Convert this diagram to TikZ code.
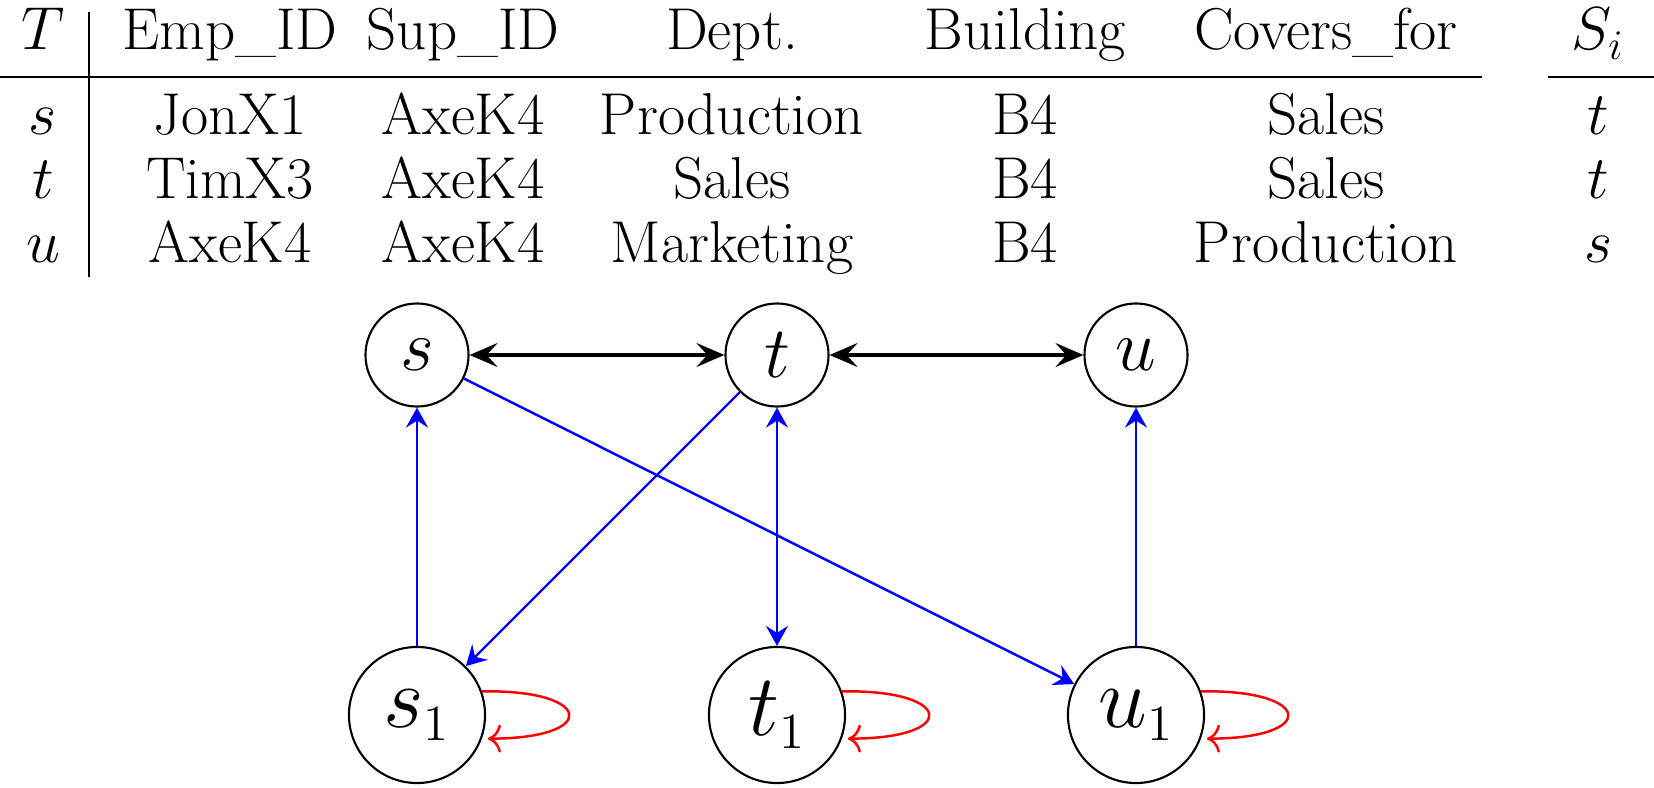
\documentclass[tikz,border=0pt]{standalone}
\usepackage{fontspec}
\DeclareMathSizes{24.88}{24.88}{14.4}{10}
\usetikzlibrary{arrows.meta}
\tikzset{
  tab/.style={anchor=base, inner sep=0pt, font=\fontsize{16.8}{20}\selectfont},
  topnode/.style={circle, draw, line width=0.6pt, minimum size=1.03cm, inner sep=0pt, font=\fontsize{20.74}{25}\selectfont},
  botnode/.style={circle, draw, line width=0.6pt, minimum size=1.36cm, inner sep=0pt, font=\fontsize{24.88}{28}\selectfont},
  blk/.style={line width=0.9pt, arrows={Stealth[length=2.8mm,width=2.4mm,inset=1.1mm]-Stealth[length=2.8mm,width=2.4mm,inset=1.1mm]}},
  bl/.style={blue, line width=0.7pt, arrows={-Stealth[length=2mm,width=2.2mm,inset=0.7mm]}},
  bll/.style={blue, line width=0.7pt, arrows={Stealth[length=2mm,width=2.2mm,inset=0.7mm]-Stealth[length=2mm,width=2.2mm,inset=0.7mm]}},
  lp/.style={red, line width=0.7pt, arrows={-To[length=1.3mm,width=2.8mm]}},
  rule/.style={line width=0.6pt}
}
\begin{document}
\begin{tikzpicture}[x=0.01cm,y=-0.01cm]
\useasboundingbox (0,0) rectangle (1654,788);
% table header
\node[tab] (hT) at (43,50) {$T$};
\node[tab] (hE) at (230,50) {Emp\_ID};
\node[tab] (hS) at (463,50) {Sup\_ID};
\node[tab] (hD) at (732,50) {Dept.};
\node[tab] (hB) at (1025,50) {Building};
\node[tab] (hC) at (1326,50) {Covers\_for};
\node[tab] (hI) at (1598,50) {$S_i$};
% rows
\node[tab] (r1a) at (43,135) {$s$};
\node[tab] (r1b) at (230,135) {JonX1};
\node[tab] (r1c) at (463,135) {AxeK4};
\node[tab] (r1d) at (732,135) {Production};
\node[tab] (r1e) at (1025,135) {B4};
\node[tab] (r1f) at (1326,135) {Sales};
\node[tab] (r1g) at (1598,135) {$t$};
\node[tab] (r2a) at (43,199) {$t$};
\node[tab] (r2b) at (230,199) {TimX3};
\node[tab] (r2c) at (463,199) {AxeK4};
\node[tab] (r2d) at (732,199) {Sales};
\node[tab] (r2e) at (1025,199) {B4};
\node[tab] (r2f) at (1326,199) {Sales};
\node[tab] (r2g) at (1598,199) {$t$};
\node[tab] (r3a) at (43,263) {$u$};
\node[tab] (r3b) at (230,263) {AxeK4};
\node[tab] (r3c) at (463,263) {AxeK4};
\node[tab] (r3d) at (732,263) {Marketing};
\node[tab] (r3e) at (1025,263) {B4};
\node[tab] (r3f) at (1326,263) {Production};
\node[tab] (r3g) at (1598,263) {$s$};
\draw[rule] (89,12) -- (89,277);
\draw[rule] (0,77) -- (1482,77);
\draw[rule] (1548,77) -- (1654,77);
% graph
\node[topnode] (s) at (417,355) {$s$};
\node[topnode] (t) at (777,355) {$t$};
\node[topnode] (u) at (1136,355) {$u$};
\node[botnode] (s1) at (417,715) {$s_1$};
\node[botnode] (t1) at (777,715) {$t_1$};
\node[botnode] (u1) at (1136,715) {$u_1$};
\draw[blk] (s) -- (t);
\draw[blk] (t) -- (u);
\draw[bl] (s1) -- (s);
\draw[bl] (t) -- (s1);
\draw[bll] (t) -- (t1);
\draw[bl] (s) -- (u1);
\draw[bl] (u1) -- (u);
\draw[lp] (s1.20) .. controls +(112,-2) and +(112,0) .. ([xshift=0.06cm]s1.-20);
\draw[lp] (t1.20) .. controls +(112,-2) and +(112,0) .. ([xshift=0.06cm]t1.-20);
\draw[lp] (u1.20) .. controls +(112,-2) and +(112,0) .. ([xshift=0.06cm]u1.-20);
\end{tikzpicture}
\end{document}
